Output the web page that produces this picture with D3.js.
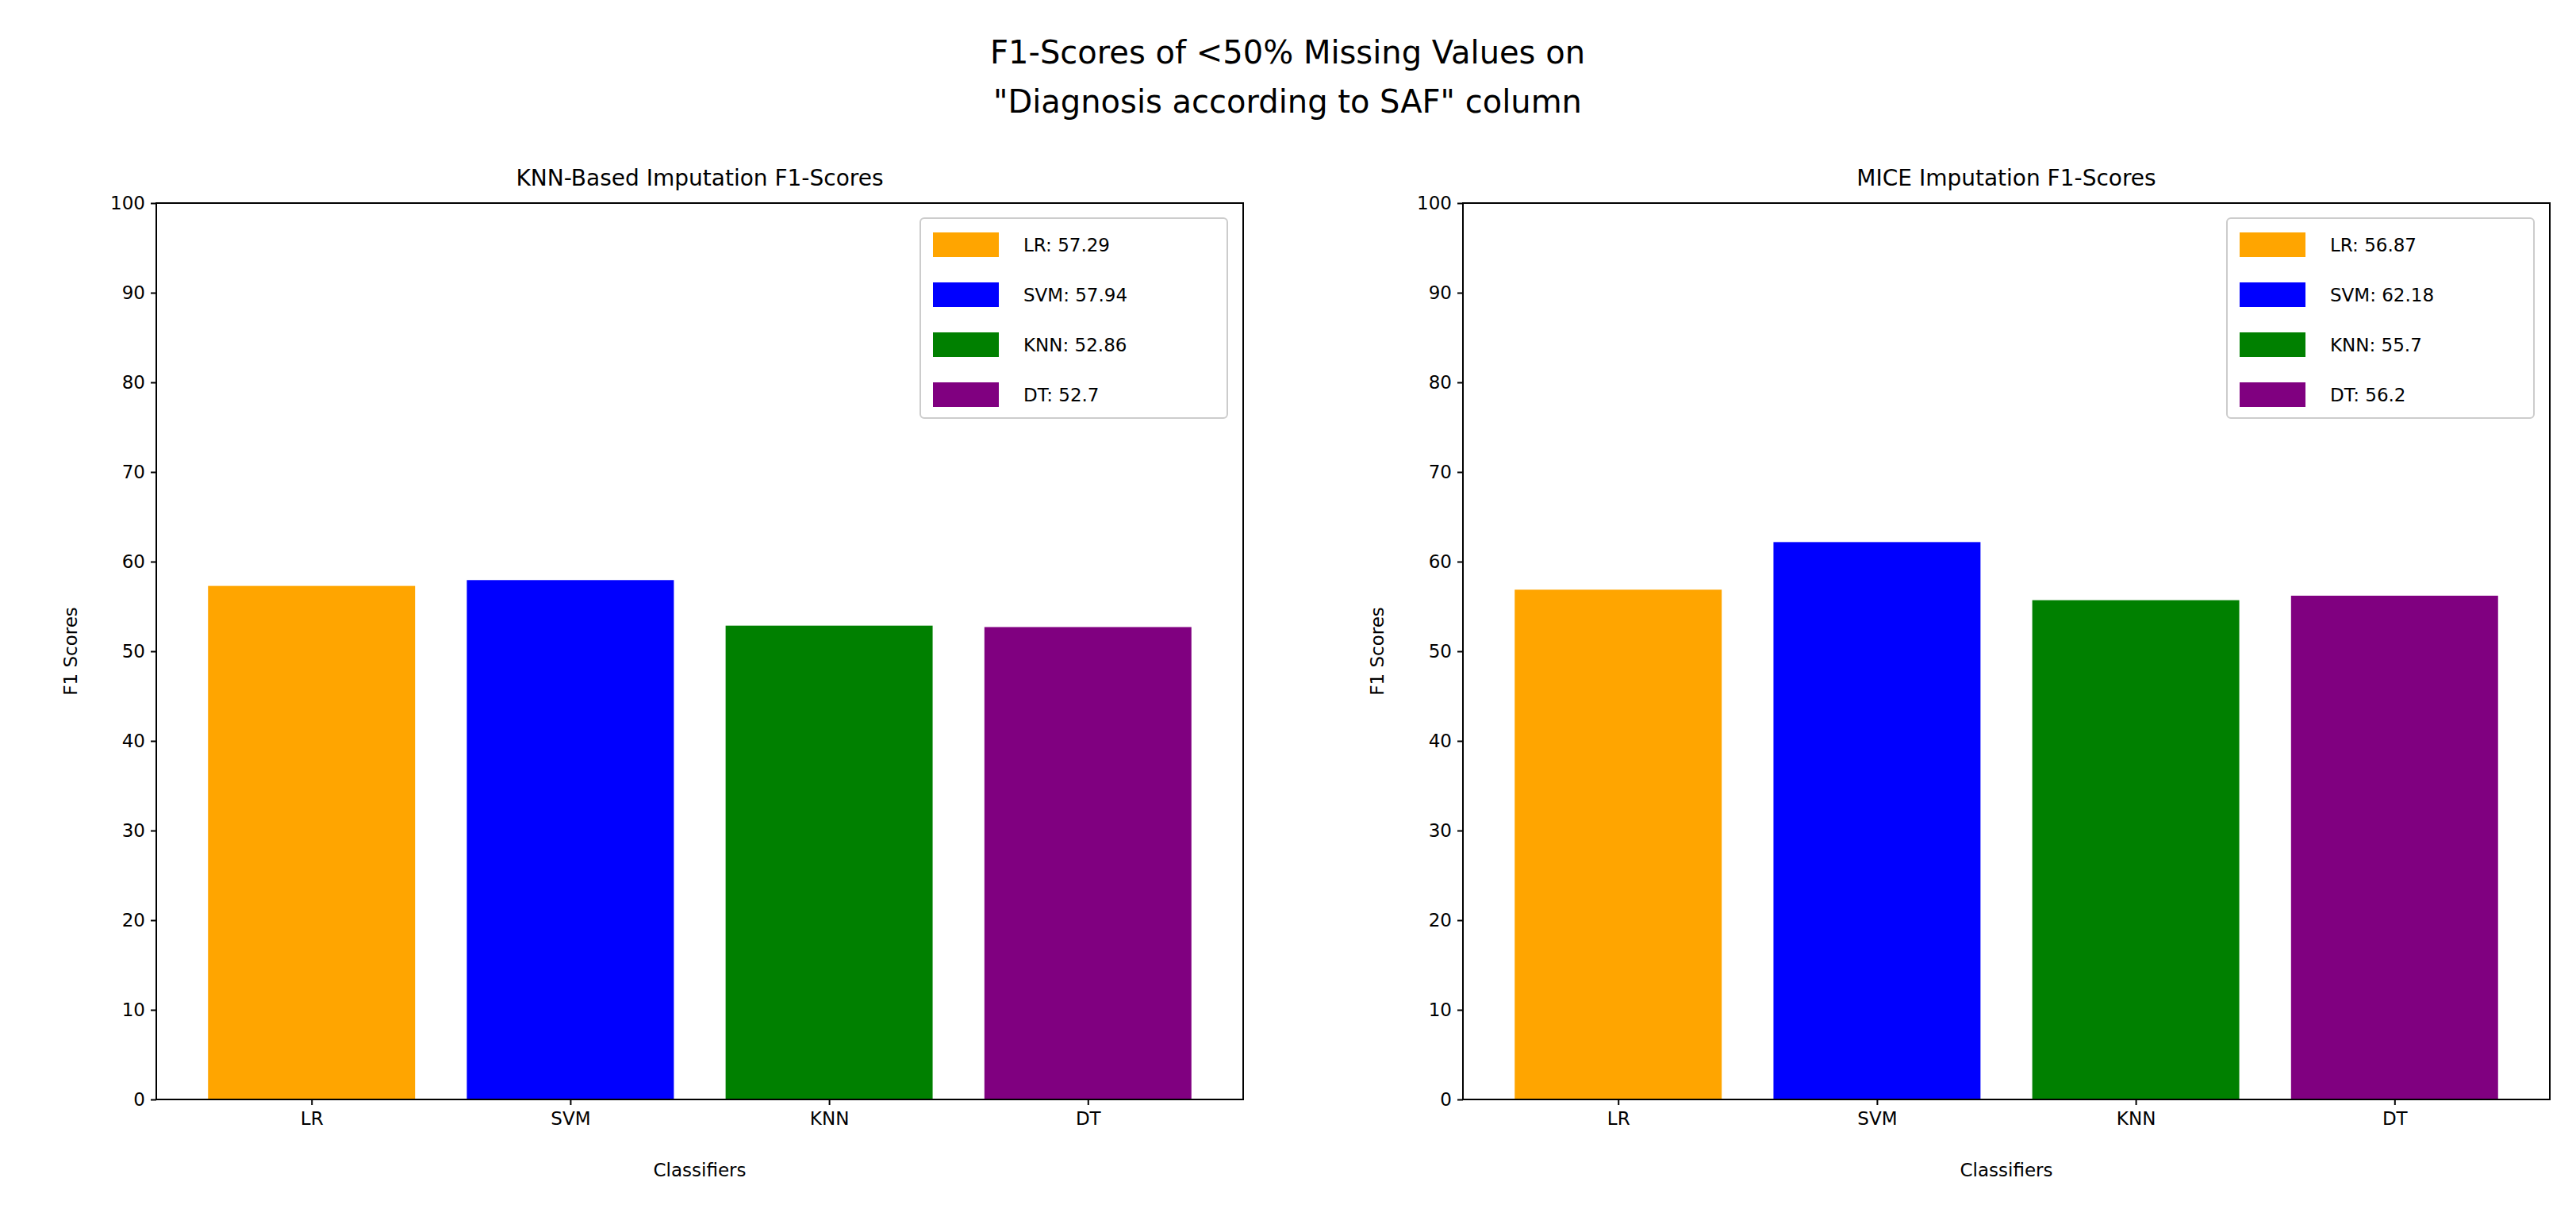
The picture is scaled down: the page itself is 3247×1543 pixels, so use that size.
<!DOCTYPE html>
<html>
<head>
<script src="https://cdn.jsdelivr.net/npm/d3@7"></script>
<style>
body { margin: 0; background: #fff; }
text { font-family: "DejaVu Sans", sans-serif; fill: #000; }
</style>
</head>
<body>
<svg id="chart" width="3247" height="1543"></svg>
<script>
var classifiers = ["LR", "SVM", "KNN", "DT"];
var colors = ["orange", "blue", "green", "purple"];
var knnScores = [57.29, 57.94, 52.86, 52.7];
var miceScores = [56.87, 62.18, 55.7, 56.2];
var yTicks = [0, 10, 20, 30, 40, 50, 60, 70, 80, 90, 100];

var svg = d3.select("#chart");
svg.append("rect").attr("width", 3247).attr("height", 1543).attr("fill", "#fff");

svg.append("text").attr("x", 1623).attr("y", 80).attr("text-anchor", "middle")
  .attr("font-size", 40).text("F1-Scores of <50% Missing Values on");
svg.append("text").attr("x", 1623).attr("y", 142).attr("text-anchor", "middle")
  .attr("font-size", 40).text("\"Diagnosis according to SAF\" column");

var plotTop = 256, plotBottom = 1386;

function panel(x0, x1, title, scores) {
  var g = svg.append("g");
  var x = d3.scaleLinear().domain([-0.6, 3.6]).range([x0, x1]);
  var y = d3.scaleLinear().domain([0, 100]).range([plotBottom, plotTop]);

  g.selectAll("rect.bar").data(scores).enter().append("rect")
    .attr("x", function(d, i) { return x(i - 0.4); })
    .attr("width", x(0.4) - x(-0.4))
    .attr("y", function(d) { return y(d); })
    .attr("height", function(d) { return plotBottom - y(d); })
    .attr("fill", function(d, i) { return colors[i]; });

  var ya = g.append("g").attr("transform", "translate(" + x0 + ",0)")
    .call(d3.axisLeft(y).tickValues(yTicks).tickSize(7).tickPadding(7));
  var xa = g.append("g").attr("transform", "translate(0," + plotBottom + ")")
    .call(d3.axisBottom(x).tickValues([0, 1, 2, 3]).tickSize(7).tickPadding(9)
      .tickFormat(function(d) { return classifiers[d]; }));
  [ya, xa].forEach(function(a) {
    a.selectAll("text").attr("font-size", 23).attr("font-family", "DejaVu Sans");
    a.selectAll("line").attr("stroke-width", 2);
    a.select(".domain").remove();
  });

  g.append("rect").attr("x", x0).attr("y", plotTop).attr("width", x1 - x0).attr("height", plotBottom - plotTop)
    .attr("fill", "none").attr("stroke", "#000").attr("stroke-width", 2);

  g.append("text").attr("x", (x0 + x1) / 2).attr("y", plotTop - 22).attr("text-anchor", "middle")
    .attr("font-size", 28).text(title);
  g.append("text").attr("x", (x0 + x1) / 2).attr("y", plotBottom + 97).attr("text-anchor", "middle")
    .attr("font-size", 23).text("Classifiers");
  g.append("text").attr("transform", "translate(" + (x0 - 100) + "," + ((plotTop + plotBottom) / 2) + ") rotate(-90)")
    .attr("text-anchor", "middle").attr("font-size", 23).text("F1 Scores");

  var lx = x1 - 407, ly = plotTop + 19;
  g.append("rect").attr("x", lx).attr("y", ly).attr("width", 387).attr("height", 252).attr("rx", 5)
    .attr("fill", "#fff").attr("stroke", "#ccc").attr("stroke-width", 2);
  scores.forEach(function(d, i) {
    var yy = ly + 18 + i * 63;
    g.append("rect").attr("x", lx + 16).attr("y", yy).attr("width", 83).attr("height", 31).attr("fill", colors[i]);
    g.append("text").attr("x", lx + 130).attr("y", yy + 24).attr("font-size", 23)
      .text(classifiers[i] + ": " + d);
  });
}

panel(197, 1567, "KNN-Based Imputation F1-Scores", knnScores);
panel(1844, 3214, "MICE Imputation F1-Scores", miceScores);
</script>
</body>
</html>
